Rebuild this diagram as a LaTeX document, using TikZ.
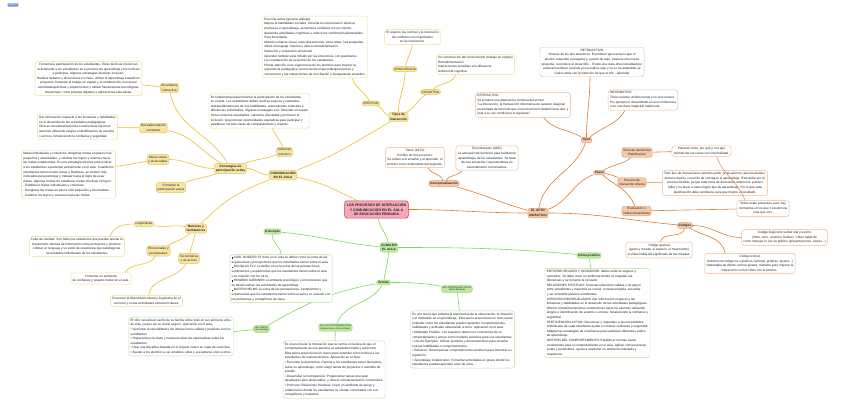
\documentclass[tikz,border=0pt]{standalone}
\usepackage{fontspec}
\setmainfont{Liberation Sans}
\usepackage{tikz}
\usetikzlibrary{backgrounds,calc}
\definecolor{ygold}{HTML}{F7E5A6}
\definecolor{yedge}{HTML}{E4C55A}
\definecolor{yline}{HTML}{E6C229}
\definecolor{ybord}{HTML}{F0DC90}
\definecolor{opeach}{HTML}{F3C9A8}
\definecolor{oedge}{HTML}{E2A070}
\definecolor{oline}{HTML}{E27B2A}
\definecolor{obord}{HTML}{EDBA94}
\definecolor{gmint}{HTML}{BDE8A2}
\definecolor{gedge}{HTML}{9ED97C}
\definecolor{gline}{HTML}{7ED957}
\definecolor{gbord}{HTML}{B2E29C}
\definecolor{rpink}{HTML}{F5A9B8}
\definecolor{redge}{HTML}{D63A5C}
\definecolor{ink}{HTML}{222222}
\definecolor{mblue}{HTML}{6D93CF}

\begin{document}
\begin{tikzpicture}[x=2pt,y=-2pt,
  font=\fontsize{6.3}{9.2}\selectfont,text=ink,
  topic/.style={rounded corners=5pt,line width=0.9pt,align=center,inner sep=2.6pt},
  ytop/.style={topic,draw=yedge,fill=ygold},
  otop/.style={topic,draw=oedge,fill=opeach},
  gtop/.style={topic,draw=gedge,fill=gmint},
  bold/.style={font=\fontsize{6.3}{9.2}\selectfont\bfseries},
  tiny/.style={font=\fontsize{4.4}{5.6}\selectfont,inner sep=2pt},
  note/.style={rounded corners=5pt,line width=0.9pt,fill=white,inner sep=3.6pt},
  ybox/.style={note,draw=ybord},
  obox/.style={note,draw=obord},
  gbox/.style={note,draw=gbord},
  ylink/.style={draw=yline,line width=1.2pt},
  olink/.style={draw=oline,line width=1.2pt},
  glink/.style={draw=gline,line width=1.2pt}]
  \useasboundingbox (0,0) rectangle (848,415);
  \node[fill=mblue,text=white,rounded corners=1pt,inner sep=1.5pt,font=\fontsize{4.5}{5}\selectfont] (logo) at (13,5) {mindomo};

  % centre
  \node[topic,draw=redge,fill=rpink,line width=1.2pt,inner sep=4.5pt,font=\fontsize{7}{9.6}\selectfont\bfseries] (root) at (376.5,209.5)
    {LOS PROCESOS DE  INTERACCIÓN\\Y COMUNICACIÓN EN EL AULA\\DE EDUCACIÓN PRIMARIA};

  % comunicacion
  \node[ytop,bold] (comm) at (283,175) {COMUNICACIÓN\\EN EL AULA};
  \node[ytop,bold] (tipos) at (398.5,117) {Tipos de\\interacción};
  \node[ytop] (afect) at (371,103.5) {AFECTIVA};
  \node[ytop] (convi) at (405,69) {CONVIVENCIA};
  \node[ytop] (cogni) at (430.5,92) {COGNITIVA};
  \node[ybox,align=left] (esct) at (315,47) {Escucha activa (generar diálogo)\\
    Mejora la habilidades sociales, fomenta la comunicación efectiva,\\
    promueve el aprendizaje, aumenta la confianza en uno mismo,\\
    desarrolla actividades cognitivas  y reduce los conflictos/malentendidos.\\
    Para fomentarla:\\
    Mantén contacto visual, evita distracciones, toma notas, haz preguntas,\\
    utiliza el lenguaje corporal y ofrece retroalimentación.\\
    Detección y contención emocional\\
    Aprender también está influido por las emociones, son guardianes.\\
    La consideración de la opinión de los estudiantes\\
    Presta atención a las sugerencias de tus alumnos para mejorar la\\
    experiencia pedagógica, promoviendo el aprendizajerecíproco y\\
    constructivo y las interacciones de conciliación y búsqueda de acuerdos.};
  \node[ybox,align=center] (convt) at (412.5,37) {El respeto, las normas y la resolución\\
    de conflictos son importantes\\en la convivencia.};
  \node[ybox,align=left] (cognt) at (475.5,64.5) {Co-construcción del conocimiento (trabajo en equipo)\\
    Retroalimentación\\ Interacciones sensibles a la diferencia\\ Autonomía cognitiva.};

  \node[ytop,bold] (estrat) at (230.5,168.5) {Estrategias de\\participación activa};
  \node[ytop] (ambi) at (284.5,152) {Ambiente\\inclusivo};
  \node[ytop] (ensen) at (169.5,88) {Enseñanza\\interactiva};
  \node[ytop] (retrc) at (153.5,128) {Retroalimentación\\constante};
  \node[ytop] (metasn) at (158,159.5) {Metas claras\\y alcanzables};
  \node[ytop] (fomen) at (171,187.5) {Fomentar la\\participación activa};
  \node[ybox,align=left] (ambt) at (259.5,111) {Es fundamental para fomentar la participación de los estudiantes\\
    en el aula. Los estudiantes deben sentirse seguros y valorados,\\
     independientemente de sus habilidades, antecedentes culturales o\\
    diferencias individuales. Algunas estrategias son: fomentar el respeto\\
    mutuo entre los estudiantes, valorar la diversidad y promover la\\
    inclusión, proporcionar oportunidades equitativas para participar y\\
    establecer normas claras de comportamiento y respeto.};
  \node[ybox,align=center] (enst) at (88.5,78.5) {Fomenta la participación de los estudiantes. Estas técnicas involucran\\
    activamente a los estudiantes en el proceso de aprendizaje y los motivan\\
    a participar. Algunas estrategias efectivas incluyen:\\
    Realizar debates y discusiones en clase, utilizar el aprendizaje basado en\\
    proyectos, fomentar el trabajo en equipo y la colaboración, incorporar\\
    actividadesprácticas y experimentos y utilizar herramientas tecnológicas\\
    interactivas, como pizarras digitales y aplicaciones educativas.};
  \node[ybox,align=left] (retrt) at (77.5,127) {Dar información respecto a las fortalezas y debilidades\\
    en el desarrollo de las actividades pedagógicas.\\
    Ofrecer retroalimentaciones constructivas hacia los\\
    alumnos utilizando elogios e identificación de aciertos\\
    o errores, fortaleciendo la confianza y seguridad.};
  \node[ybox,align=left] (metast) at (68.5,174.5) {Metas individuales y colectivas, desglosar metas en pasos más\\
    pequeños y alcanzables, y celebrar los logros y avances hacia\\
    las metas establecidas. Es una estrategia efectiva para motivar\\
    a los estudiantes a participar activamente en el aula. Cuando los\\
    estudiantes tienen metas claras y Realistas, se sienten más\\
    motivados para participar y trabajar hacia el logro de esas\\
     metas. Algunas formas de establecer metas efectivas incluyen:\\
    - Establecer metas individuales y colectivas.\\
    - Desglosar las metas en pasos más pequeños y alcanzables.\\
    - Celebrar los logros y avances hacia las metas.};

  \node[ytop,bold] (barr) at (196,228.5) {Barreras y\\facilitadores};
  \node[ytop] (lingn) at (144,224) {Lingüísticas};
  \node[ytop] (emocn) at (158.5,251) {Emocionales y\\perceptuales};
  \node[ytop] (tecnn) at (189,258.5) {Tecnológicas\\y de acceso};
  \node[ybox,align=center] (lingt) at (77,246.5) {Falta de claridad: Son todos los obstáculos que pueden afectar la\\
    transmisión efectiva de información entre profesores y alumnos.\\
    Utilizar un lenguaje y un estilo de enseñanza que satisfage las\\
    necesidades individuales de los estudiantes.};
  \node[ybox,align=center] (emoct) at (101,278.5) {Fomentar un ambiente\\de confianza y respeto mutuo en el aula.};
  \node[ybox,align=center] (tecnt) at (146.5,301) {Promover la diversidad cultural y lingüística en el\\
    currículo y en las actividades extracurriculares.};

  % clima
  \node[gtop,bold] (clima) at (389,247.5) {CLIMA EN\\EL AULA};
  \node[gtop,bold] (concn) at (272.5,231.5) {Concepto};
  \node[gtop,bold] (climp) at (589,255.5) {Clima positivo};
  \node[gtop,bold] (teor) at (383.5,282.5) {Teorías};
  \node[gtop,tiny] (apegon) at (261.5,329) {DEL APEGO\\(John Bowlby)};
  \node[gtop,tiny] (autodn) at (335.5,327.5) {DE LA AUTODETERMINACIÓN\\(Edward Deci y Richard Ryan)};
  \node[gtop,tiny] (socialn) at (457,289) {DEL APRENDIZAJE SOCIAL\\(Albert Bandura)};
  \node[gbox,align=left] (conct) at (281,278.5) {\rule{2.4pt}{2.4pt} CARL ROGERS: El clima en el aula se define como la suma de las\\
    experiencias y percepciones que los estudiantes tienen sobre el aula.\\
     \rule{2.4pt}{2.4pt} DOUGLAS FLY: se define como la suma de las percepciones,\\
    sentimientos y experiencias que los estudiantes tienen sobre el aula\\
    y su relación con los otros.\\
     \rule{2.4pt}{2.4pt} HOWARD GARDNER: el ambiente psicológico y emocional en que\\
    se desenvuelven las actividades de aprendizaje.\\
     \rule{2.4pt}{2.4pt} MARTIN HELMS: la suma de las percepciones, sentimientos y\\
    experiencias que los estudiantes tienen sobre el aula y su relación con\\
    los profesores y compañeros de clase.};
  \node[gbox,align=left] (climt) at (597.5,313) {ENTORNO SEGURO Y ACOGEDOR: deben sentirse seguros y\\
     valorados. Se debe crear un ambiente donde se respeten las\\
    diferencias y se fomente la inclusión.\\
    RELACIONES POSITIVAS: fomentar relaciones cálidas y de apoyo\\
    entre estudiantes y maestros es crucial, mostrar empatía, escuchar\\
    y ser accesible para los estudiantes.\\
     ATENCIÓN INDIVIDUALIZADA: Dar información respecto a las\\
    fortalezas y debilidades en el desarrollo de las actividades pedagógicas.\\
    Ofrecer retroalimentaciones constructivas hacia los alumnos utilizando\\
    elogios e identificación de aciertos o errores, fortaleciendo la confianza y\\
    seguridad.\\
     PARTICIPACIÓN ACTIVA: Reconocer y responder a las necesidades\\
    individuales de cada estudiante ayuda a construir confianza y seguridad.\\
    Adaptar las estrategias de enseñanza para satisfacer diferentes estilos\\
    de aprendizaje.\\
     GESTIÓN DEL COMPORTAMIENTO: Establecer normas claras\\
    consistentes para el comportamiento en el aula. Aplicar consecuencias\\
    justas y predecibles, ayuda a mantener un ambiente ordenado y\\
    respetuoso};
  \node[gbox,align=left] (apegot) at (181,336.5) {El niño necesita el cariño de su familia sobre todo en sus primeros años\\
    de vida, ya que así se siente seguro. Aplicación en el aula.\\
    • Aumentar la sensibilidad y las interacciones cálidas y positivas con los\\
    estudiantes.\\
    • Preparar bien la clase y mantener altas las expectativas sobre los\\
    estudiantes.\\
    • Usar una disciplina basada en el respeto mutuo en lugar de coercitiva\\
    • Ayudar a los alumnos a ser amables, útiles y a aceptarse unos a otros.};
  \node[gbox,align=left] (autodt) at (334,369.5) {Es una teoría de la motivación que se centra en la idea de que el\\
    comportamiento de una persona es autodeterminado y autónomo.\\
    Esta teoría proporciona un marco para entender cómo motivar a los\\
    estudiantes de manera efectiva. Aplicación en el Aula:\\
    • Fomentar la Autonomía: Permitir a los estudiantes tomar decisiones\\
    sobre su  aprendizaje, como elegir temas de proyectos o métodos de\\
    estudio.\\
    • Desarrollar la Competencia: Proporcionar tareas que sean\\
    desafiantes pero alcanzables, y ofrecer retroalimentación constructiva.\\
    • Promover Relaciones Positivas: Crear un ambiente de apoyo y\\
    colaboración donde los estudiantes se sientan conectados con sus\\
    compañeros y maestros.};
  \node[gbox,align=left] (socialt) at (462.5,339.5) {Es una teoría que enfatiza la importancia de la observación, la imitación\\
    y el modelado en el aprendizaje. Esta teoría proporciona un marco para\\
    entender cómo los estudiantes pueden aprender  comportamientos,\\
    habilidades y actitudes observando a otros. Aplicación en el aula:\\
    • Modelado Positivo: Los maestros deben ser conscientes de su\\
    comportamiento y actuar como modelos positivos para sus estudiantes.\\
    • Uso de Ejemplos: Utilizar ejemplos y demostraciones para enseñar\\
    nuevas habilidades o comportamientos\\
    • Refuerzo: Recompensar comportamientos positivos para fomentar su\\
    repetición.\\
    • Aprendizaje Colaborativo: Fomentar actividades en grupo donde los\\
    estudiantes puedan aprender unos de otros.};

  % acto didactico
  \node[otop,bold] (acto) at (538,213) {EL ACTO\\DIDÁCTICO};
  \node[otop,bold] (concept) at (444,183.5) {Conceptualización};
  \node[otop,bold] (tiposd) at (586.5,140) {Tipos};
  \node[otop,bold] (fases) at (599.5,172.5) {Fases};
  \node[otop,bold] (codig) at (685,225.5) {Códigos};
  \node[otop] (toma) at (637,152.5) {Toma de decisiones\\Planificación};
  \node[otop] (procn) at (632,182.5) {Proceso de\\interacción directa};
  \node[otop] (evaln) at (636.5,211) {Evaluación o\\redireccionamiento};
  \node[obox,align=center] (titt) at (415,157.5) {Titone (1973):\\Confluir de dos procesos:\\
    Se refiere a el enseñar y el aprender, el\\primero como estimulante del segundo.};
  \node[obox,align=center] (peret) at (487,158) {Pére Marqués (2001)\\
    La actuación del profesor para facilitarnos\\aprendizajes de los estudiantes. Se trata\\
    de una actuación cuya naturaleza es\\esencialmente comunicativa.};
  \node[obox,align=center] (retrot) at (592,62) {RETROACTIVO\\
    Síntesis de los dos anteriores. El profesor aprovecha lo que el\\
    alumno responde o pregunta y, a partir de aquí, propone una nueva\\
    pregunta, reconduce el desarrollo... Existe una clara direccionalidad por\\
    parte del profesor (cuando ya se explica algo y no se ha entendido se\\
    vuelve atrás con la intención de que el info . aprenda)};
  \node[obox,align=left] (intt) at (523,105) {INTERACTIVO\\
    Se produce una alternancia continua del emisor.\\
    "La interacción, la transacción informativa de carácter diagonal\\
    presentada de tal modo que una intervención determina la otra, y\\
    ésta a su vez condiciona la siguiente"};
  \node[obox,align=left] (inft) at (643,100) {INFORMATIVO\\
    Tiene carácter unidireccional y un solo emisor.\\
    Por ejemplo el desarrollado en una conferencia\\
    o en una clase magistral tradicional.};
  \node[obox,align=center] (plantt) at (701.5,151) {Plantear cómo, por qué y con qué\\método dar las cosas con una finalidad.};
  \node[obox,align=center] (proct) at (715,183) {Todo tipo de interacciones (alumno-profe, profe-alumno, alumno-alumno,\\
    alumno-medio), con el fin de conseguir el aprendizaje. Este debe ser un\\
    proceso flexible, ya que toda toma de decisiones anteriores, pueden\\
    fallar y no llevar a cabo ningún tipo de aprendizaje. Por lo que esta\\
    planificación debe cambiarse para que mejore el resultado.};
  \node[obox,align=center] (todost) at (763,208.5) {Todos están presentes, pero hay\\momentos en los que 1 predomina\\más que otro.};
  \node[obox,align=center] (lingc) at (784.5,237.5) {Código lingüístico verbal oral y escrito\\
    (ritmo, tono, volumen, fluidez). Vídeo habla de\\
    cómo manejar tu voz en público (presentaciones, clases...)};
  \node[obox,align=center] (gestc) at (659,250) {Código gestual\\(gesto y mirada, el espacio, el movimiento)\\
    el vídeo habla del significado de las miradas.};
  \node[obox,align=center] (iconc) at (750,263.5) {Código icónico\\
    (médicos tecnológicos o gráficos, láminas, gráficas, pizarra...)\\
    videohabla de dónde colocar pizarra, métodos para mejorar la\\
    interacción con los niños con la pizarra...};

  \begin{scope}[on background layer]
    % yellow
    \draw[ylink] (root) to[out=155,in=-10] (comm);
    \draw[ylink] (comm) to[out=20,in=210] (tipos);
    \draw[ylink] (tipos) to[out=170,in=-20] (afect);
    \draw[ylink] (tipos) to[out=90,in=-90] (convi);
    \draw[ylink] (tipos) to[out=30,in=210] (cogni);
    \draw[ylink] (afect) to[out=120,in=-70] ($(esct.south)+(37,0)$);
    \draw[ylink] (convi) to[out=80,in=-100] ($(convt.south)+(0,0)$);
    \draw[ylink] (cogni) to[out=45,in=-110] ($(cognt.south)+(-20,0)$);
    \draw[ylink] (comm) to[out=180,in=0] (estrat);
    \draw[ylink] (estrat) to[out=20,in=200] (ambi);
    \draw[ylink] (ambi) to[out=110,in=-70] ($(ambt.south)+(13,0)$);
    \draw[ylink] (estrat) to[out=120,in=-80] (ensen);
    \draw[ylink] (estrat) to[out=150,in=-10] (retrc);
    \draw[ylink] (estrat) to[out=180,in=0] (metasn);
    \draw[ylink] (estrat) to[out=200,in=20] (fomen);
    \draw[ylink] (ensen) -- (enst);
    \draw[ylink] (retrc) -- (retrt);
    \draw[ylink] (metasn) -- (metast);
    \draw[ylink] (comm) to[out=200,in=45] (barr);
    \draw[ylink] (barr) to[out=170,in=-10] (lingn);
    \draw[ylink] (barr) to[out=220,in=30] (emocn);
    \draw[ylink] (barr) to[out=-100,in=80] (tecnn);
    \draw[ylink] (lingn) to[out=180,in=70] ($(lingt.north)+(33,0)$);
    \draw[ylink] (emocn) to[out=240,in=60] ($(emoct.north)+(24,0)$);
    \draw[ylink] (tecnn) to[out=240,in=80] ($(tecnt.north)+(2,0)$);
    % green
    \draw[glink] (root) to[out=-80,in=100] (clima);
    \draw[glink] (clima) to[out=175,in=-5] (concn);
    \draw[glink] (concn) to[out=-95,in=90] (conct);
    \draw[glink] (clima) to[out=0,in=175] (climp);
    \draw[glink] (climp) -- (climt);
    \draw[glink] (clima) to[out=-95,in=80] (teor);
    \draw[glink] (teor) to[out=190,in=30] (apegon);
    \draw[glink] (teor) to[out=240,in=70] (autodn);
    \draw[glink] (teor) to[out=0,in=170] (socialn);
    \draw[glink] (apegon) -- (apegot);
    \draw[glink] (autodn) -- (autodt);
    \draw[glink] (socialn) -- (socialt);
    % orange
    \draw[olink] (root) to[out=0,in=180] (acto);
    \draw[olink] (acto) to[out=165,in=-15] (concept);
    \draw[olink] (concept) to[out=110,in=-60] ($(titt.south)+(13,0)$);
    \draw[olink] (concept) to[out=60,in=-120] ($(peret.south)+(-25,0)$);
    \draw[olink] (acto) to[out=80,in=-110] (tiposd);
    \draw[olink] (tiposd) to[out=150,in=-50] ($(intt.south east)+(-27,0)$);
    \draw[olink] (tiposd) to[out=90,in=-90] ($(retrot.south)+(-2,0)$);
    \draw[olink] (tiposd) to[out=40,in=-120] ($(inft.south west)+(17,0)$);
    \draw[olink] (acto) to[out=20,in=200] (fases);
    \draw[olink] (fases) to[out=30,in=220] (toma);
    \draw[olink] (fases) to[out=-10,in=160] (procn);
    \draw[olink] (fases) to[out=-40,in=110] (evaln);
    \draw[olink] (acto) to[out=0,in=175] (codig);
    \draw[olink] (toma) -- (plantt);
    \draw[olink] (procn) -- (proct);
    \draw[olink] (evaln) -- (todost);
    \draw[olink] (codig) to[out=0,in=180] (lingc);
    \draw[olink] (codig) to[out=-100,in=80] (gestc);
    \draw[olink] (codig) to[out=-30,in=100] ($(iconc.north)+(-25,0)$);
  \end{scope}
  \draw[olink,line width=0.8pt] ($(plantt.south)+(15,0)$) to[out=-70,in=110] ($(todost.north)+(-18,0)$);
\end{tikzpicture}
\end{document}
